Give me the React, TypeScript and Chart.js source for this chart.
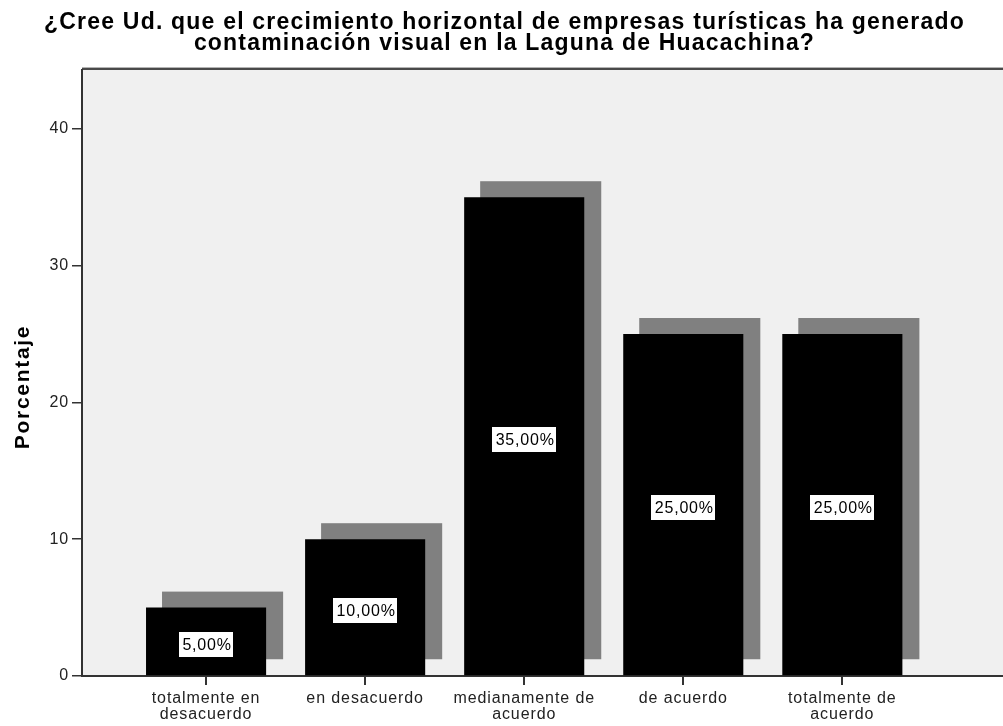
import React, { useEffect, useRef } from "react";
import { Chart, registerables } from "chart.js";

Chart.register(...registerables);

const titleLines = [
  "¿Cree Ud. que el crecimiento horizontal de empresas turísticas ha generado",
  "contaminación visual en la Laguna de Huacachina?",
];
const categories = [
  ["totalmente en", "desacuerdo"],
  ["en desacuerdo"],
  ["medianamente de", "acuerdo"],
  ["de acuerdo"],
  ["totalmente de", "acuerdo"],
];
const percentages = [5, 10, 35, 25, 25];
const yTicks = [0, 10, 20, 30, 40];
const yAxisTitle = "Porcentaje";

const FONT = "'Liberation Sans', Arial, sans-serif";

const fmt = (v: number) => v.toFixed(2).replace(".", ",") + "%";

const spacingPlugin = {
  id: "spacing",
  beforeLayout(chart: any) {
    chart.ctx.letterSpacing = "0.9px";
  },
  beforeDraw(chart: any) {
    chart.ctx.letterSpacing = "0.9px";
  },
};

const framePlugin = {
  id: "frame",
  beforeDraw(chart: any) {
    const { ctx, chartArea: a } = chart;
    ctx.save();
    ctx.fillStyle = "#f0f0f0";
    ctx.fillRect(a.left, a.top, a.right - a.left, a.bottom - a.top);
    ctx.fillStyle = "#b4b4b4";
    ctx.fillRect(a.left, a.top - 3, a.right - a.left, 1);
    ctx.fillStyle = "#4a4a4a";
    ctx.fillRect(a.left, a.top - 2, a.right - a.left, 2);
    ctx.restore();
  },
};

const titlePlugin = {
  id: "chartTitle",
  afterDraw(chart: any) {
    const { ctx } = chart;
    ctx.save();
    ctx.letterSpacing = "1.2px";
    ctx.font = `bold 23px ${FONT}`;
    ctx.fillStyle = "#000";
    ctx.textAlign = "center";
    ctx.textBaseline = "alphabetic";
    const cx = chart.width / 2 + 3;
    titleLines.forEach((line, i) => ctx.fillText(line, cx, 29 + i * 21));
    ctx.restore();
  },
};

const shadowPlugin = {
  id: "shadow",
  beforeDatasetsDraw(chart: any) {
    const { ctx } = chart;
    const meta = chart.getDatasetMeta(0);
    ctx.save();
    ctx.fillStyle = "#808080";
    meta.data.forEach((el: any) => {
      const { x, y, base, width } = el.getProps(["x", "y", "base", "width"], true);
      ctx.fillRect(x - width / 2 + 16, y - 16, width + 1, base - y);
    });
    ctx.restore();
  },
};

const labelPlugin = {
  id: "valueLabels",
  afterDatasetsDraw(chart: any) {
    const { ctx } = chart;
    const meta = chart.getDatasetMeta(0);
    ctx.save();
    ctx.letterSpacing = "0.8px";
    ctx.font = `16px ${FONT}`;
    ctx.textAlign = "center";
    ctx.textBaseline = "middle";
    meta.data.forEach((el: any, i: number) => {
      const { x, y, base } = el.getProps(["x", "y", "base"], true);
      const text = fmt(percentages[i]);
      const w = Math.round(ctx.measureText(text).width + 7);
      const h = 27;
      const cy = (y + base) / 2 + 3;
      const bx = Math.round(x - w / 2);
      const by = Math.round(cy - h / 2);
      ctx.fillStyle = "#ffffff";
      ctx.fillRect(bx, by, w, h);
      ctx.strokeStyle = "#000000";
      ctx.lineWidth = 1;
      ctx.strokeRect(bx + 0.5, by + 0.5, w - 1, h - 1);
      ctx.fillStyle = "#000000";
      ctx.fillText(text, x + 1, cy + 1);
    });
    ctx.restore();
  },
};

const yTitlePlugin = {
  id: "yTitle",
  afterDraw(chart: any) {
    const { ctx } = chart;
    ctx.save();
    ctx.translate(23, 387);
    ctx.rotate(-Math.PI / 2);
    ctx.letterSpacing = "1.7px";
    ctx.font = `bold 21px ${FONT}`;
    ctx.fillStyle = "#000";
    ctx.textAlign = "center";
    ctx.textBaseline = "middle";
    ctx.fillText(yAxisTitle, 0, 0);
    ctx.restore();
  },
};

export default function App() {
  const ref = useRef<HTMLCanvasElement | null>(null);

  useEffect(() => {
    document.body.style.margin = "0";
    const canvas = ref.current;
    if (!canvas) return;
    const chart = new Chart(canvas, {
      type: "bar",
      data: {
        datasets: [
          {
            label: yAxisTitle,
            data: percentages.map((v, i) => ({ x: i, y: v })),
            backgroundColor: "#000000",
            borderWidth: 0,
            barPercentage: 0.755,
            categoryPercentage: 1,
          },
        ],
      },
      options: {
        responsive: false,
        animation: false,
        devicePixelRatio: 1,
        layout: { padding: { left: 0, right: 0, top: 70, bottom: 0 } },
        plugins: {
          legend: { display: false },
          tooltip: { enabled: false },
          title: { display: false },
        },
        scales: {
          x: {
            type: "linear",
            offset: false,
            min: -0.78,
            max: 5.01,
            afterBuildTicks: (s: any) => {
              s.ticks = percentages.map((_, i) => ({ value: i }));
            },
            afterFit: (s: any) => {
              s.height = 50;
            },
            ticks: {
              callback: (v: any) => categories[v as number] ?? "",
              font: { family: FONT, size: 16, lineHeight: 1.0 },
              color: "#222",
              padding: 6,
              maxRotation: 0,
              autoSkip: false,
            },
            grid: { offset: false, drawOnChartArea: false, tickLength: 9, color: "#333", lineWidth: 2 },
            border: { color: "#333", width: 2 },
          },
          y: {
            min: 0,
            max: 44.3,
            afterBuildTicks: (s: any) => {
              s.ticks = yTicks.map((v) => ({ value: v }));
            },
            afterFit: (s: any) => {
              s.width = 82;
            },
            ticks: {
              font: { family: FONT, size: 16 },
              color: "#222",
              padding: 3,
            },
            grid: { drawOnChartArea: false, tickLength: 10, color: "#333", lineWidth: 1.5 },
            border: { color: "#333", width: 2 },
          },
        },
      },
      plugins: [spacingPlugin, framePlugin, shadowPlugin, labelPlugin, titlePlugin, yTitlePlugin],
    } as any);
    return () => chart.destroy();
  }, []);

  return (
    <div style={{ width: 1003, height: 726 }}>
      <canvas ref={ref} width={1003} height={726} style={{ display: "block" }} />
    </div>
  );
}
